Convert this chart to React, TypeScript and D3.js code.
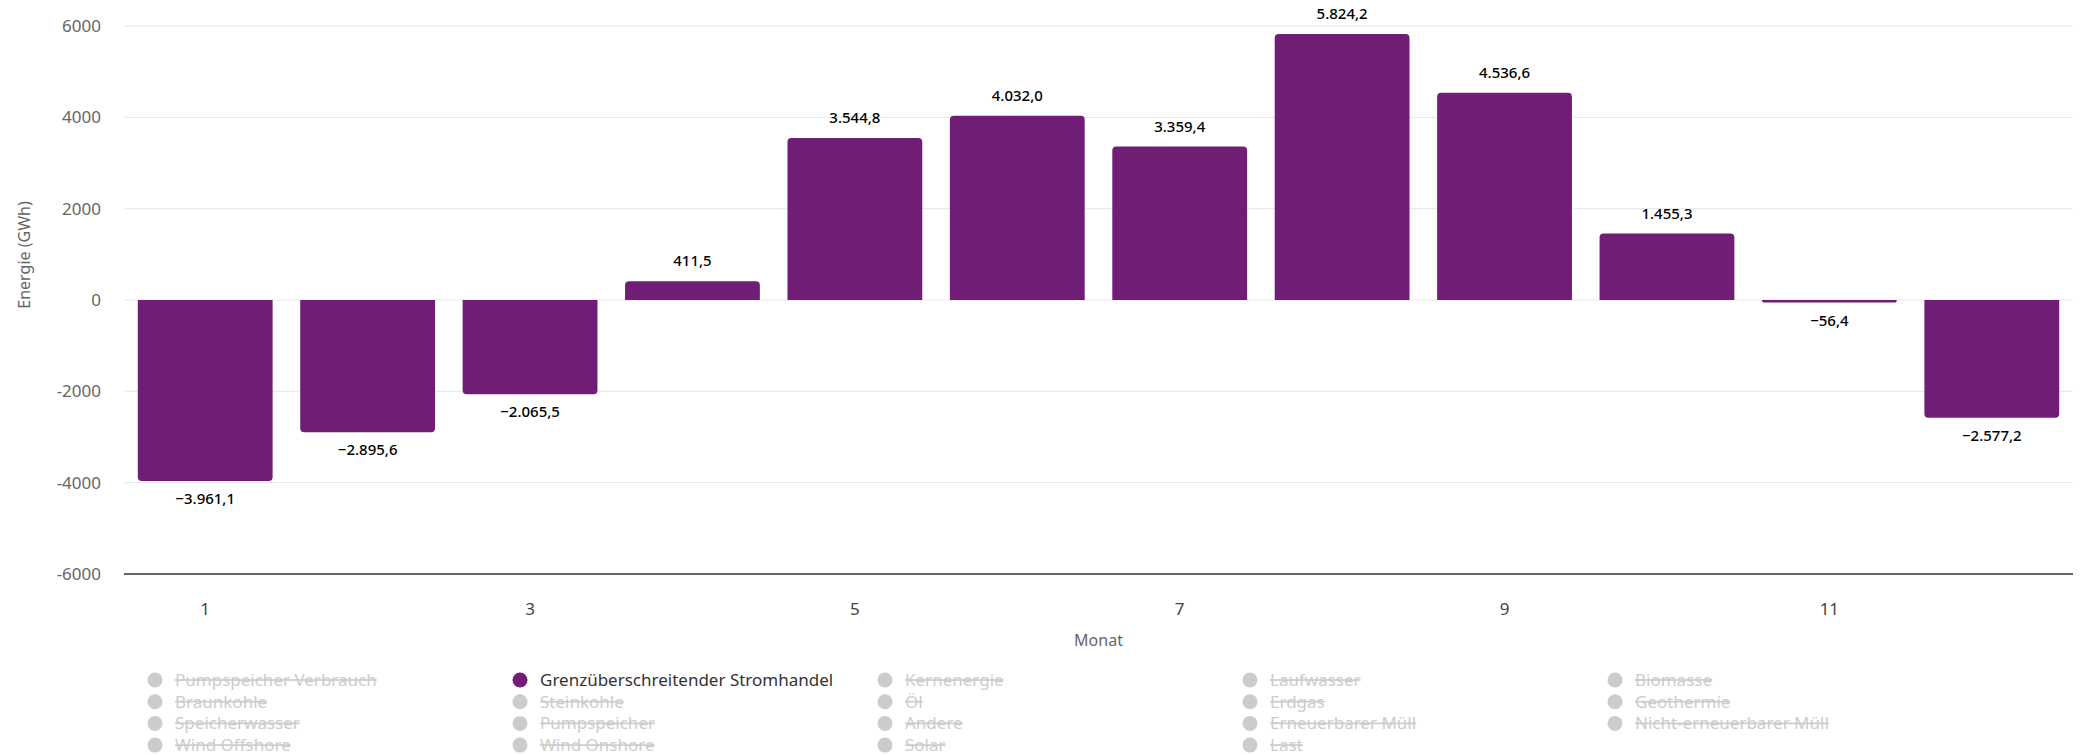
import React from "react";
import * as d3 from "d3";

const months = ["1", "2", "3", "4", "5", "6", "7", "8", "9", "10", "11", "12"];
const tradeValues = [-3961.1, -2895.6, -2065.5, 411.5, 3544.8, 4032.0, 3359.4, 5824.2, 4536.6, 1455.3, -56.4, -2577.2];
const yTicks = [-6000, -4000, -2000, 0, 2000, 4000, 6000];
const xTickLabels = ["1", "3", "5", "7", "9", "11"];
const legendNames = [
  "Pumpspeicher Verbrauch", "Grenzüberschreitender Stromhandel", "Kernenergie", "Laufwasser", "Biomasse",
  "Braunkohle", "Steinkohle", "Öl", "Erdgas", "Geothermie",
  "Speicherwasser", "Pumpspeicher", "Andere", "Erneuerbarer Müll", "Nicht-erneuerbarer Müll",
  "Wind Offshore", "Wind Onshore", "Solar", "Last",
];
const activeSeries = "Grenzüberschreitender Stromhandel";

const W = 2080;
const H = 755;
const FONT = "'Noto Sans', 'DejaVu Sans', sans-serif";
const BAR = "#701d76";

const de = d3.formatLocale({ decimal: ",", thousands: ".", grouping: [3], currency: ["", " €"], minus: "−" });
const fmt = de.format(",.1f");

// bar rounded only at its outer end
function barPath(x: number, w: number, y0: number, y1: number, r: number) {
  const h = Math.abs(y1 - y0);
  const rr = Math.min(r, h, w / 2);
  const s = y1 <= y0 ? 1 : -1;
  const p = d3.path();
  p.moveTo(x, y0);
  p.lineTo(x, y1 + s * rr);
  p.arcTo(x, y1, x + rr, y1, rr);
  p.lineTo(x + w - rr, y1);
  p.arcTo(x + w, y1, x + w, y1 + s * rr, rr);
  p.lineTo(x + w, y0);
  p.closePath();
  return p.toString();
}

export default function App() {
  const left = 124;
  const right = 2073;
  const x = d3.scaleBand().domain(months).range([left, right]).paddingInner(0.17).paddingOuter(0.085);
  const y = d3.scaleLinear().domain([-6000, 6000]).range([574, 26]);

  return (
    <>
      <style>{`html,body{margin:0;padding:0;overflow:hidden;}`}</style>
      <svg width={W} height={H} style={{ display: "block" }} fontFamily={FONT}>
        <rect width={W} height={H} fill="#fff" />
        {yTicks.map((t) => (
          <g key={t}>
            {t !== -6000 && (
              <line x1={left} x2={right} y1={y(t)} y2={y(t)} stroke="#e6e6e6" strokeWidth={1} />
            )}
            <text x={101} y={y(t) + 6} textAnchor="end" fontSize={17} fill="#666">
              {t < 0 ? `-${Math.abs(t)}` : t}
            </text>
          </g>
        ))}
        <text transform={`translate(30,255) rotate(-90)`} textAnchor="middle" fontSize={16} fill="#666">
          Energie (GWh)
        </text>

        {tradeValues.map((v, i) => {
          const bx = x(months[i])!;
          const bw = x.bandwidth();
          const y0 = y(0);
          const y1 = y(v);
          return (
            <g key={i}>
              <path d={barPath(bx, bw, y0, y1, 4)} fill={BAR} />
              <text
                x={bx + bw / 2}
                y={v >= 0 ? y1 - 15 : y1 + 23}
                textAnchor="middle"
                fontSize={15}
                fontWeight={500}
                fill="#000"
              >
                {fmt(v)}
              </text>
            </g>
          );
        })}

        <line x1={left} x2={right} y1={y(-6000)} y2={y(-6000)} stroke="#333" strokeWidth={1.5} />
        {xTickLabels.map((m) => (
          <text key={m} x={x(m)! + x.bandwidth() / 2} y={615} textAnchor="middle" fontSize={17} fill="#444">
            {m}
          </text>
        ))}
        <text x={(left + right) / 2} y={646} textAnchor="middle" fontSize={16} fill="#666">
          Monat
        </text>

        {legendNames.map((name, i) => {
          const col = i % 5;
          const row = Math.floor(i / 5);
          const cx = 155 + col * 365;
          const cy = 680 + row * 21.7;
          const on = name === activeSeries;
          return (
            <g key={name}>
              <circle cx={cx} cy={cy} r={7.5} fill={on ? BAR : "#cccccc"} />
              <text
                x={cx + 20}
                y={cy + 6}
                fontSize={17}
                fill={on ? "#333" : "#cccccc"}
                textDecoration={on ? undefined : "line-through"}
              >
                {name}
              </text>
            </g>
          );
        })}
      </svg>
    </>
  );
}
